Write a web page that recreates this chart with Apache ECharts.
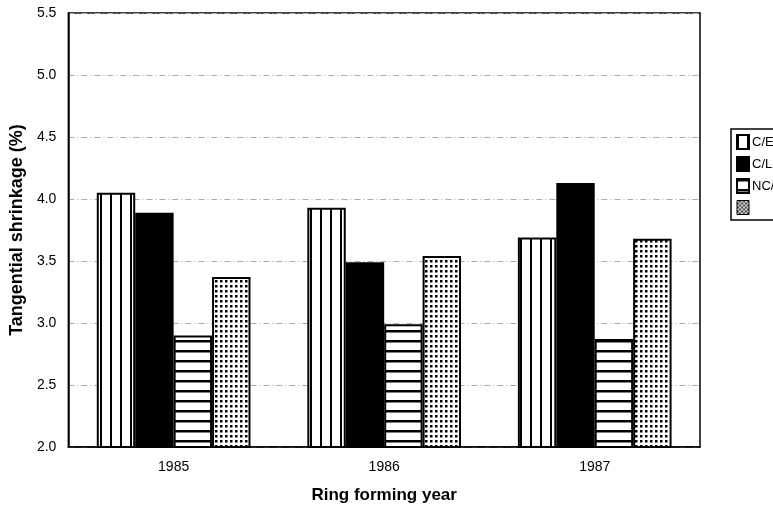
<!DOCTYPE html>
<html>
<head>
<meta charset="utf-8">
<script src="https://cdn.jsdelivr.net/npm/echarts@6/dist/echarts.min.js"></script>
<style>html,body{margin:0;padding:0;background:#fff}#c{width:773px;height:509px}</style>
</head>
<body>
<div id="c"></div>
<script>
var categories = ['1985', '1986', '1987'];
var seriesNames = ['C/E', 'C/L', 'NC/E', 'NC/L'];
var legendLabels = ['C/E', 'C/L', 'NC/', ''];
var valuesCE = [4.05, 3.93, 3.69];
var valuesCL = [3.89, 3.49, 4.13];
var valuesNCE = [2.90, 2.99, 2.87];
var valuesNCL = [3.37, 3.54, 3.68];

function makePattern(w, h, draw) {
  var c = document.createElement('canvas');
  c.width = w; c.height = h;
  var ctx = c.getContext('2d');
  ctx.fillStyle = '#fff';
  ctx.fillRect(0, 0, w, h);
  ctx.fillStyle = '#000';
  draw(ctx);
  return { image: c, repeat: 'repeat' };
}
var vStripes = makePattern(10, 10, function (ctx) { ctx.fillRect(0, 0, 2, 10); });
var hStripes = makePattern(10, 10, function (ctx) { ctx.fillRect(0, 0, 10, 2.5); });
var dots = makePattern(5, 5, function (ctx) { ctx.fillRect(0, 0, 2.5, 2.5); });
var grayDots = makePattern(4, 4, function (ctx) {
  ctx.fillStyle = '#555'; ctx.fillRect(0, 0, 4, 4);
  ctx.fillStyle = '#ccc'; ctx.fillRect(0, 0, 2, 2); ctx.fillRect(2, 2, 2, 2);
});

var chart = echarts.init(document.getElementById('c'));
var fills = [vStripes, '#000', hStripes, dots];
var dataArr = [valuesCE, valuesCL, valuesNCE, valuesNCL];

var series = seriesNames.map(function (n, i) {
  return {
    name: n,
    type: 'bar',
    data: dataArr[i],
    barGap: '0%',
    barCategoryGap: '27%',
    itemStyle: { color: fills[i], borderColor: '#000', borderWidth: 2 },
    emphasis: { disabled: true }
  };
});

var legendData = seriesNames.map(function (n, i) {
  var d = { name: n, icon: 'rect' };
  if (i === 3) d.itemStyle = { color: grayDots, borderColor: '#000', borderWidth: 1 };
  return d;
});

chart.setOption({
  animation: false,
  backgroundColor: '#fff',
  textStyle: { fontFamily: 'Liberation Sans, Arial, sans-serif' },
  grid: { left: 67, right: 73, top: 13, bottom: 62, show: true, borderColor: '#000', borderWidth: 1.5, backgroundColor: 'transparent' },
  legend: {
    orient: 'vertical',
    left: 731,
    top: 129,
    itemWidth: 12,
    itemHeight: 14,
    itemGap: 6,
    padding: [5, 20, 5, 5],
    borderColor: '#000',
    borderWidth: 1.5,
    data: legendData,
    formatter: function (name) { return legendLabels[seriesNames.indexOf(name)]; },
    textStyle: { fontSize: 13, color: '#000', fontFamily: 'Liberation Sans, Arial, sans-serif', padding: [0, 0, 0, -2] }
  },
  xAxis: {
    type: 'category',
    data: categories,
    name: 'Ring forming year',
    nameLocation: 'middle',
    nameGap: 40,
    nameTextStyle: { fontSize: 17, fontWeight: 'bold', color: '#000' },
    axisLine: { lineStyle: { color: '#000', width: 1.5 } },
    axisTick: { show: false },
    axisLabel: { fontSize: 14, color: '#000', margin: 13 }
  },
  yAxis: {
    type: 'value',
    min: 2.0,
    max: 5.5,
    interval: 0.5,
    name: 'Tangential shrinkage (%)',
    nameLocation: 'middle',
    nameGap: 40,
    nameTextStyle: { fontSize: 18, fontWeight: 'bold', color: '#000' },
    axisLine: { show: true, lineStyle: { color: '#000', width: 1.5 } },
    axisTick: { show: false },
    axisLabel: { fontSize: 14, color: '#000', margin: 12, formatter: function (v) { return v.toFixed(1); } },
    splitLine: { show: true, lineStyle: { color: '#aaa', width: 1, type: [6, 3, 1, 3] } }
  },
  series: series
});
</script>
</body>
</html>
